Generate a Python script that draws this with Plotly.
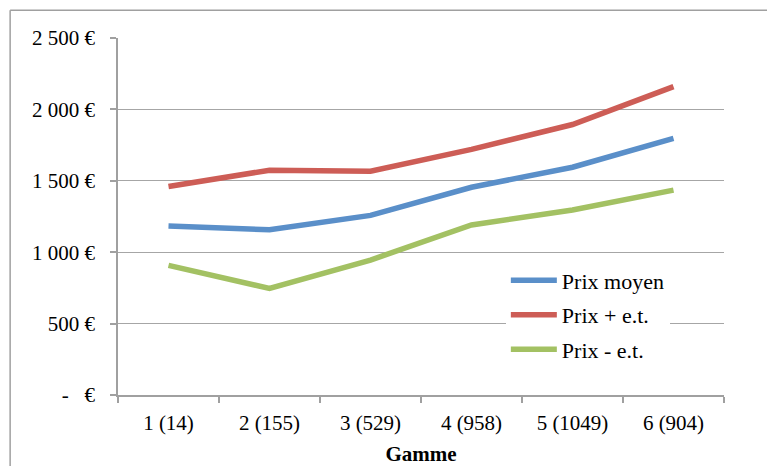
import plotly.graph_objects as go

categories = ["1 (14)", "2 (155)", "3 (529)", "4 (958)", "5 (1049)", "6 (904)"]
prix_moyen = [1184, 1157, 1258, 1455, 1595, 1797]
prix_plus = [1460, 1574, 1567, 1720, 1894, 2159]
prix_moins = [908, 746, 945, 1191, 1295, 1435]

y_ticks = [0, 500, 1000, 1500, 2000, 2500]
y_ticktext = ["-   €", "500 €", "1 000 €", "1 500 €", "2 000 €", "2 500 €"]

FONT = "Liberation Serif"

fig = go.Figure()
series = [
    ("Prix moyen", prix_moyen, "#5A8FC9"),
    ("Prix + e.t.", prix_plus, "#CD5D56"),
    ("Prix - e.t.", prix_moins, "#A3C163"),
]
for i, (name, vals, col) in enumerate(series):
    fig.add_trace(go.Scatter(
        x=categories, y=vals, name=name, mode="lines",
        line=dict(color=col, width=5.5),
        legendgroup=f"g{i}",
    ))

frame = dict(color="#A0A0A0", width=1.5)
fig.update_layout(
    width=767, height=466,
    margin=dict(l=118, r=43, t=38, b=71, autoexpand=False),
    paper_bgcolor="white", plot_bgcolor="white",
    font=dict(family=FONT, size=21, color="#000000"),
    showlegend=True,
    legend=dict(
        x=0.64, y=0.38, xanchor="left", yanchor="top",
        bgcolor="white", borderwidth=0,
        font=dict(family=FONT, size=22),
        tracegroupgap=3, traceorder="grouped",
        itemwidth=46,
    ),
    xaxis=dict(
        type="category",
        showline=True, linecolor="#A0A0A0", linewidth=1.5,
        ticks="outside", ticklen=6, tickcolor="#A0A0A0", tickwidth=1.5,
        tickson="boundaries",
        showgrid=False,
        range=[-0.5, 5.5],
        automargin=False,
        ticklabelstandoff=8,
        title=dict(text="<b>Gamme</b>", font=dict(family=FONT, size=21), standoff=14),
    ),
    yaxis=dict(
        range=[0, 2500],
        tickvals=y_ticks, ticktext=y_ticktext,
        showline=True, linecolor="#A0A0A0", linewidth=1.5,
        ticks="outside", ticklen=6, tickcolor="#A0A0A0", tickwidth=1.5,
        showgrid=True, gridcolor="#A6A6A6", gridwidth=1.3,
        zeroline=False,
        automargin=False,
        ticklabelstandoff=11,
    ),
    shapes=[
        dict(type="line", xref="paper", yref="paper",
             x0=-0.178, x1=-0.178, y0=-0.4, y1=1.078, line=frame, layer="below"),
        dict(type="line", xref="paper", yref="paper",
             x0=-0.178, x1=1.3, y0=1.078, y1=1.078, line=frame, layer="below"),
    ],
)

# remove the default page margin so the 767x466 figure fills the window exactly
fig.write_html(
    "out.html",
    config={"displayModeBar": False},
    post_script="document.body.style.margin='0';document.body.style.overflow='hidden';",
)
